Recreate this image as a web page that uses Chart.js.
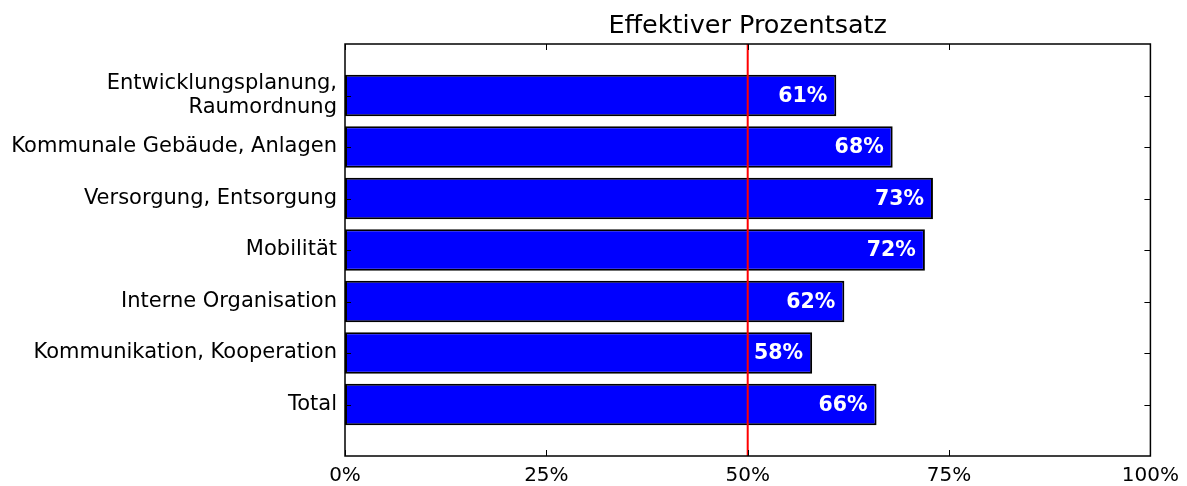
<!DOCTYPE html>
<html lang="de">
<head>
  <meta charset="UTF-8">
  <title>Effektiver Prozentsatz</title>
  <script src="https://cdn.jsdelivr.net/npm/chart.js@4"></script>
  <style>
    html, body { margin: 0; padding: 0; background: #fff; }
    #wrap { width: 1187px; height: 486px; }
  </style>
</head>
<body>
<div id="wrap"><canvas id="barChart"></canvas></div>

<script>
  const categories = [
    ['Entwicklungsplanung,', 'Raumordnung'],
    'Kommunale Gebäude, Anlagen',
    'Versorgung, Entsorgung',
    'Mobilität',
    'Interne Organisation',
    'Kommunikation, Kooperation',
    'Total'
  ];
  const percentages = [61, 68, 73, 72, 62, 58, 66];
  const xTicks = [0, 25, 50, 75, 100];
  const threshold = 50;
  const chartTitle = 'Effektiver Prozentsatz';

  // empty slot above and below so the bars sit one unit from the frame (like matplotlib)
  const labels = [''].concat(categories, ['']);
  const values = [null].concat(percentages, [null]);

  const font = 'DejaVu Sans';

  const framePlugin = {
    id: 'mplFrame',
    afterDatasetsDraw(chart) {
      const { ctx, chartArea: a, scales: { x, y } } = chart;
      ctx.save();

      // red 50% line
      const xr = x.getPixelForValue(threshold);
      ctx.strokeStyle = '#ff0000';
      ctx.lineWidth = 2;
      ctx.beginPath();
      ctx.moveTo(xr, a.top);
      ctx.lineTo(xr, a.bottom);
      ctx.stroke();

      // inward ticks on all sides
      ctx.strokeStyle = '#000';
      ctx.lineWidth = 1;
      const t = 6;
      ctx.beginPath();
      xTicks.forEach(v => {
        const px = Math.round(x.getPixelForValue(v)) + 0.5;
        ctx.moveTo(px, a.bottom); ctx.lineTo(px, a.bottom - t);
        ctx.moveTo(px, a.top); ctx.lineTo(px, a.top + t);
      });
      categories.forEach((c, i) => {
        const py = Math.round(y.getPixelForValue(i + 1)) + 0.5;
        ctx.moveTo(a.left, py); ctx.lineTo(a.left + t, py);
        ctx.moveTo(a.right, py); ctx.lineTo(a.right - t, py);
      });
      ctx.stroke();

      // frame
      ctx.lineWidth = 1.5;
      ctx.strokeRect(a.left, a.top, a.right - a.left, a.bottom - a.top);

      // value labels inside bars
      ctx.fillStyle = '#fff';
      ctx.font = 'bold 20.5px "' + font + '"';
      ctx.textAlign = 'right';
      ctx.textBaseline = 'middle';
      const meta = chart.getDatasetMeta(0);
      meta.data.forEach((bar, i) => {
        const v = values[i];
        if (v == null) return;
        ctx.fillText(v + '%', bar.x - 9, bar.y + 1);
      });

      // title centred over the plot area
      ctx.fillStyle = '#000';
      ctx.font = '25.5px "' + font + '"';
      ctx.textAlign = 'center';
      ctx.textBaseline = 'alphabetic';
      ctx.fillText(chartTitle, (a.left + a.right) / 2, 33);
      ctx.restore();
    }
  };

  new Chart(document.getElementById('barChart'), {
    type: 'bar',
    data: {
      labels: labels,
      datasets: [{
        data: values,
        backgroundColor: '#0000ff',
        borderColor: '#000',
        borderWidth: 2,
        borderSkipped: false,
        barPercentage: 0.81,
        categoryPercentage: 1
      }]
    },
    options: {
      indexAxis: 'y',
      responsive: true,
      maintainAspectRatio: false,
      animation: false,
      layout: { padding: { left: 0, right: 35, top: 44, bottom: 0 } },
      plugins: {
        legend: { display: false },
        tooltip: { enabled: false },
        title: { display: false }
      },
      scales: {
        x: {
          type: 'linear',
          min: 0,
          max: 100,
          afterBuildTicks(scale) { scale.ticks = xTicks.map(v => ({ value: v })); },
          afterFit(scale) { scale.height = 30; },
          grid: { display: false, drawTicks: false },
          border: { display: false },
          ticks: {
            color: '#000',
            padding: 8,
            font: { family: font, size: 20 },
            callback: v => v + '%'
          }
        },
        y: {
          type: 'category',
          offset: false,
          afterFit(scale) { scale.width = 345; },
          grid: { display: false, drawTicks: false },
          border: { display: false },
          ticks: {
            color: '#000',
            padding: 8,
            autoSkip: false,
            font: { family: font, size: 21, lineHeight: 1.15 }
          }
        }
      }
    },
    plugins: [framePlugin]
  });
</script>
</body>
</html>
